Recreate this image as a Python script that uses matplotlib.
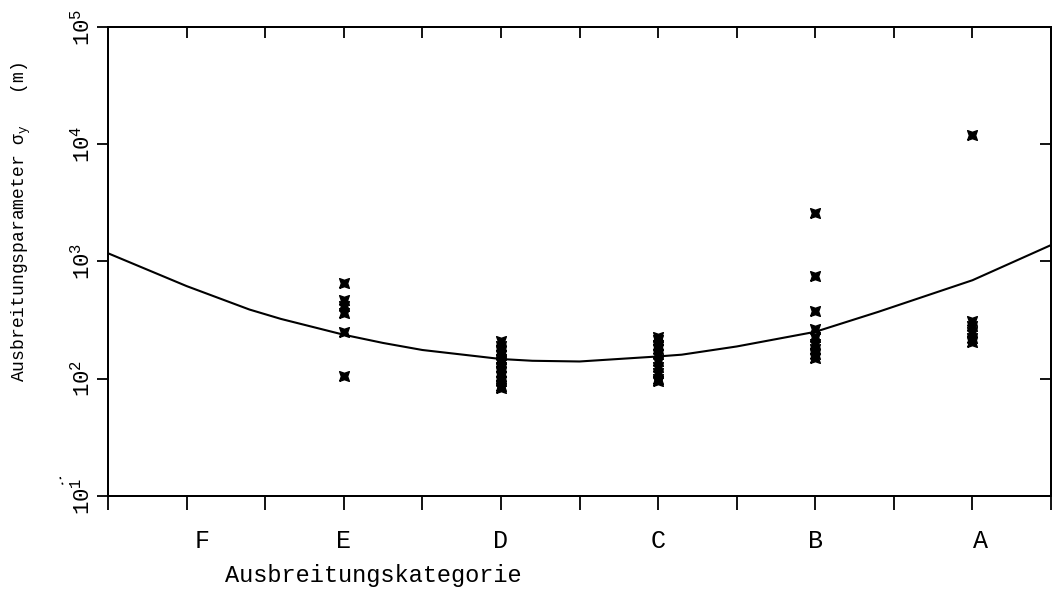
import matplotlib
matplotlib.use("Agg")
import matplotlib.pyplot as plt
import numpy as np

plt.rcParams['font.family'] = ['Liberation Mono', 'DejaVu Sans']
plt.rcParams['mathtext.fontset'] = 'custom'
plt.rcParams['mathtext.rm'] = 'Liberation Mono'
plt.rcParams['mathtext.it'] = 'Liberation Mono'

# categories sit on every second tick of a 0..12 axis
categories = ["F", "E", "D", "C", "B", "A"]
label_pos = [1.2, 3.0, 5.0, 7.0, 9.0, 11.1]

# measured sigma_y values (log10 of metres)
log_E = [2.82, 2.67, 2.62, 2.56, 2.40, 2.02]
log_D = [2.32, 2.28, 2.24, 2.20, 2.17, 2.14, 2.10, 2.06, 2.02, 1.98, 1.94, 1.92]
log_C = [2.36, 2.33, 2.29, 2.25, 2.21, 2.15, 2.10, 2.05, 2.00, 1.98]
log_B = [3.41, 2.88, 2.58, 2.42, 2.36, 2.30, 2.25, 2.21, 2.18]
log_A = [4.08, 2.49, 2.45, 2.40, 2.35, 2.31]

# fitted curve, log10 values read along the axis
curve_x = [0, 1, 1.8, 2.2, 3, 3.5, 4, 5, 5.4, 6, 7, 7.3, 8, 9, 9.8, 11, 12]
curve_log = [3.07, 2.79, 2.59, 2.51, 2.375, 2.305, 2.245, 2.168, 2.153, 2.147,
             2.19, 2.205, 2.275, 2.40, 2.57, 2.84, 3.14]

ytick_vals = [1, 2, 3, 4, 5]

# pinched square marker
mk = [(-1, -1), (0, -0.65), (1, -1), (0.65, 0), (1, 1), (0, 0.65), (-1, 1), (-0.65, 0), (-1, -1)]

fig = plt.figure(figsize=(10.59, 5.99), dpi=100)
ax = fig.add_axes([0.102, 0.172, 0.8905, 0.783])

ax.plot(curve_x, 10 ** np.array(curve_log), color="black", lw=1.5)

for xp, vals in zip([3, 5, 7, 9, 11], [log_E, log_D, log_C, log_B, log_A]):
    ax.plot([xp] * len(vals), 10 ** np.array(vals), linestyle="none",
            marker=mk, markersize=7, color="black")

ax.set_yscale("log")
ax.set_ylim(10, 1e5)
ax.set_xlim(0, 12)
ax.set_xticks(range(13))
ax.set_xticklabels([])
ax.set_yticks([10 ** v for v in ytick_vals])
ax.set_yticklabels([r"$10^{%d}$" % v for v in ytick_vals], rotation=90,
                   va="center", fontsize=16)
ax.yaxis.set_minor_locator(matplotlib.ticker.NullLocator())

for s in ax.spines.values():
    s.set_linewidth(1.3)

ax.tick_params(axis="x", which="major", direction="out", length=10, width=1.3)
ax.tick_params(axis="y", which="major", direction="out", length=8, width=1.3, pad=2)

# inward ticks on top and right
ax2 = ax.twinx()
ax2.set_yscale("log")
ax2.set_ylim(10, 1e5)
ax2.set_yticks([10 ** v for v in ytick_vals])
ax2.set_yticklabels([])
ax2.yaxis.set_minor_locator(matplotlib.ticker.NullLocator())
ax2.tick_params(axis="y", direction="in", length=8, width=1.3)
ax3 = ax.twiny()
ax3.set_xlim(0, 12)
ax3.set_xticks(range(13))
ax3.set_xticklabels([])
ax3.tick_params(axis="x", direction="in", length=8, width=1.3)
for a in (ax2, ax3):
    for s in a.spines.values():
        s.set_linewidth(1.3)

for cat, lp in zip(categories, label_pos):
    ax.text(lp, -0.096, cat, transform=ax.get_xaxis_transform(),
            ha="center", va="center", fontsize=18)

ax.set_xlabel("Ausbreitungskategorie", fontsize=17)
ax.xaxis.set_label_coords(0.281, -0.145)
ax.set_ylabel(r"Ausbreitungsparameter $\sigma_{y}$   (m)", fontsize=13)
ax.yaxis.set_label_coords(-0.08, 0.585)

# scan speck left of the lowest tick label
fig.text(0.052, 0.19, ":", fontsize=10, rotation=20)

fig.savefig("out.png", dpi=100)
